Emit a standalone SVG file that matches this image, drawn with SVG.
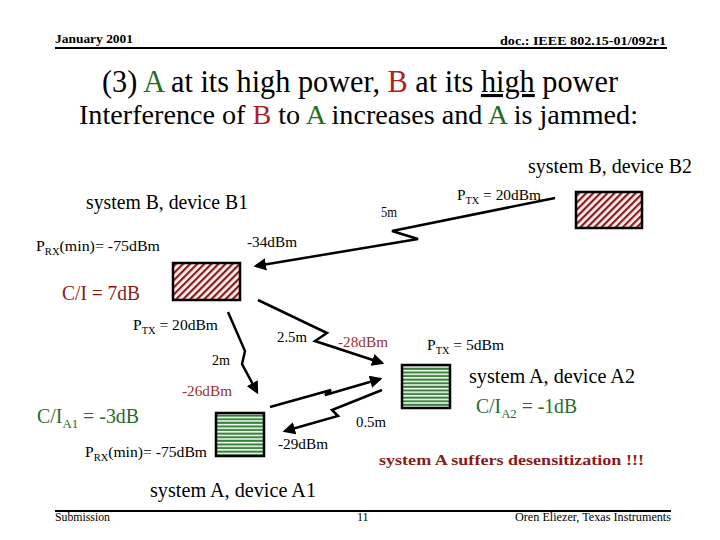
<svg xmlns="http://www.w3.org/2000/svg" width="720" height="540" viewBox="0 0 720 540" font-family="'Liberation Serif', 'Times New Roman', 'DejaVu Serif', serif">
<style>
text { font-family: "Liberation Serif", "Times New Roman", Times, "DejaVu Serif", "Noto Serif", serif; fill: #000; }
.hdr { font-size: 13px; font-weight: bold; }
.ftr { font-size: 12px; }
.big { font-size: 20px; }
.lbl { font-size: 15px; }
.sub { font-size: 10px; }
.red { fill: #B01E24; }
.grn { fill: #1E6E1E; }
.dred { fill: #8B1A1A; }
.mred { fill: #9A3030; }
.cgrn { fill: #2A6A2A; }
.box { stroke: #000; stroke-width: 2.5; }
.conn { fill: none; stroke: #000; stroke-width: 2.5; stroke-linejoin: miter; }
</style>
<defs>
<pattern id="hatch" patternUnits="userSpaceOnUse" width="5" height="5" patternTransform="rotate(45)">
<rect width="5" height="5" fill="#FFF2F0"/>
<rect width="2.2" height="5" fill="#8B1A1A"/>
</pattern>
<pattern id="hstripe" patternUnits="userSpaceOnUse" width="6" height="3.6">
<rect width="6" height="3.6" fill="#FFFFFF"/>
<rect y="0.6" width="6" height="2" fill="#2E7D32"/>
</pattern>
<marker id="ah" viewBox="0 0 10 10" refX="8" refY="5" markerWidth="5" markerHeight="5" orient="auto" markerUnits="strokeWidth">
<path d="M0,0 L10,5 L0,10 Z" fill="#000"/>
</marker>
</defs>

<g id="header">
<text class="hdr" x="55" y="43" textLength="78" lengthAdjust="spacingAndGlyphs">January 2001</text>
<text class="hdr" x="500" y="45" textLength="166" lengthAdjust="spacingAndGlyphs">doc.: IEEE 802.15-01/092r1</text>
<line x1="55" y1="48" x2="667" y2="48" stroke="#000" stroke-width="2"/>
</g>

<g id="title">
<text x="102" y="92" font-size="31" textLength="516" lengthAdjust="spacingAndGlyphs">(3) <tspan class="grn">A</tspan> at its high power, <tspan class="red">B</tspan> at its <tspan text-decoration="underline">high</tspan> power</text>
<text x="79" y="124" font-size="27" textLength="559" lengthAdjust="spacingAndGlyphs">Interference of <tspan class="red">B</tspan> to <tspan class="grn">A</tspan> increases and <tspan class="grn">A</tspan> is jammed:</text>
</g>

<g id="nodeB2">
<text class="big" x="528" y="173" textLength="164" lengthAdjust="spacingAndGlyphs">system B, device B2</text>
<rect class="box" x="576" y="192" width="66" height="36" fill="url(#hatch)"/>
</g>

<g id="nodeB1">
<text class="big" x="86" y="209" textLength="162" lengthAdjust="spacingAndGlyphs">system B, device B1</text>
<rect class="box" x="173" y="263" width="67" height="37" fill="url(#hatch)"/>
<text class="lbl" x="36" y="251" textLength="124" lengthAdjust="spacingAndGlyphs">P<tspan class="sub" dy="4">RX</tspan><tspan dy="-4">(min)= -75dBm</tspan></text>
<text class="big dred" x="62" y="300" textLength="78" lengthAdjust="spacingAndGlyphs">C/I = 7dB</text>
</g>

<g id="nodeA1">
<rect class="box" x="216" y="413" width="48" height="43" fill="url(#hstripe)"/>
<text class="big cgrn" x="37" y="423" textLength="102" lengthAdjust="spacingAndGlyphs">C/I<tspan font-size="13" dy="5">A1</tspan><tspan dy="-5"> = -3dB</tspan></text>
<text class="lbl" x="85" y="457" textLength="122" lengthAdjust="spacingAndGlyphs">P<tspan class="sub" dy="4">RX</tspan><tspan dy="-4">(min)= -75dBm</tspan></text>
<text class="big" x="150" y="497" textLength="166" lengthAdjust="spacingAndGlyphs">system A, device A1</text>
</g>

<g id="nodeA2">
<rect class="box" x="402" y="365" width="48" height="43" fill="url(#hstripe)"/>
<text class="lbl" x="427" y="350" textLength="77" lengthAdjust="spacingAndGlyphs">P<tspan class="sub" dy="4">TX</tspan><tspan dy="-4"> = 5dBm</tspan></text>
<text class="big" x="469" y="383" textLength="166" lengthAdjust="spacingAndGlyphs">system A, device A2</text>
<text class="big cgrn" x="476" y="413" textLength="101" lengthAdjust="spacingAndGlyphs">C/I<tspan font-size="13" dy="5">A2</tspan><tspan dy="-5"> = -1dB</tspan></text>
</g>

<g id="connectors">
<polyline class="conn" points="555,198 392,231 418,239 256,266" marker-end="url(#ah)"/>
<polyline class="conn" points="258,300 327,333 315,341 382,363" marker-end="url(#ah)"/>
<polyline class="conn" points="228,312 245,351 242,364 257,392" marker-end="url(#ah)"/>
<polyline class="conn" points="270,407 331,390 325,395 380,379" marker-end="url(#ah)"/>
<polyline class="conn" points="382,390 332,410 338,416 285,431" marker-end="url(#ah)"/>
</g>

<g id="labels">
<text class="lbl" x="457" y="200" textLength="84" lengthAdjust="spacingAndGlyphs">P<tspan class="sub" dy="4">TX</tspan><tspan dy="-4"> = 20dBm</tspan></text>
<text class="lbl" x="381" y="217" textLength="16" lengthAdjust="spacingAndGlyphs">5m</text>
<text class="lbl" x="247" y="247" textLength="50" lengthAdjust="spacingAndGlyphs">-34dBm</text>
<text class="lbl" x="133" y="330" textLength="85" lengthAdjust="spacingAndGlyphs">P<tspan class="sub" dy="4">TX</tspan><tspan dy="-4"> = 20dBm</tspan></text>
<text class="lbl" x="277" y="342" textLength="30" lengthAdjust="spacingAndGlyphs">2.5m</text>
<text class="lbl mred" x="338" y="347" textLength="50" lengthAdjust="spacingAndGlyphs">-28dBm</text>
<text class="lbl" x="212" y="365" textLength="18" lengthAdjust="spacingAndGlyphs">2m</text>
<text class="lbl mred" x="182" y="396" textLength="50" lengthAdjust="spacingAndGlyphs">-26dBm</text>
<text class="lbl" x="356" y="427" textLength="30" lengthAdjust="spacingAndGlyphs">0.5m</text>
<text class="lbl" x="278" y="449" textLength="50" lengthAdjust="spacingAndGlyphs">-29dBm</text>
<text x="379" y="465" font-size="15" font-weight="bold" class="dred" textLength="265" lengthAdjust="spacingAndGlyphs">system A suffers desensitization !!!</text>
</g>

<g id="footer">
<line x1="55" y1="511" x2="671" y2="511" stroke="#000" stroke-width="2"/>
<text class="ftr" x="55" y="521" textLength="55" lengthAdjust="spacingAndGlyphs">Submission</text>
<text class="ftr" x="357" y="521">11</text>
<text class="ftr" x="515" y="521" textLength="156" lengthAdjust="spacingAndGlyphs">Oren Eliezer, Texas Instruments</text>
</g>
</svg>
